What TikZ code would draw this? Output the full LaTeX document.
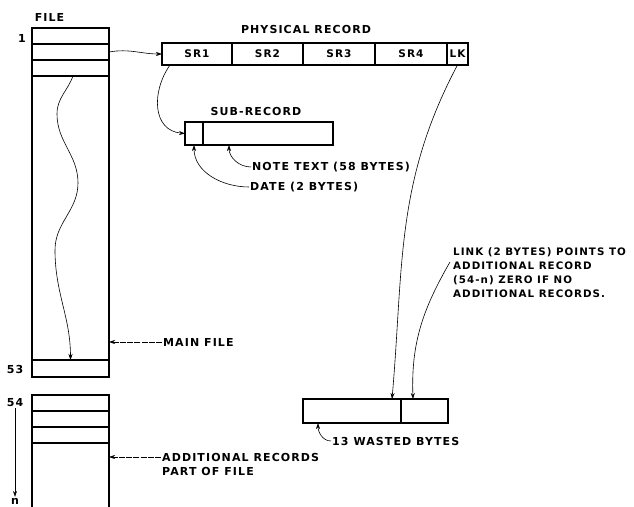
\documentclass[tikz,border=0pt]{standalone}
\usepackage{fontspec}
\newfontfamily\lettering{DejaVu Sans}[LetterSpace=10]
\usetikzlibrary{arrows.meta,positioning}
\begin{document}
\begin{tikzpicture}[x=1pt,y=1pt,>={Stealth[length=6pt,width=4pt]},
  cell/.style={draw,line width=1.2pt,inner sep=0pt,outer sep=0pt,minimum width=77pt,minimum height=16pt,anchor=north west},
  rec/.style={draw,line width=1.2pt,inner sep=0pt,outer sep=0pt,minimum height=22pt,font=\lettering\bfseries\fontsize{10.5}{11}\selectfont},
  lbl/.style={font=\lettering\bfseries\fontsize{11}{14}\selectfont,inner sep=1pt},
  link/.style={->,line width=.6pt}]
\useasboundingbox (0,0) rectangle (634,506);
% main file
\node[lbl] at (49.5,489) {FILE};
\node[cell] (r1) at (32,478) {};
\node[cell] (r2) at (32,462) {};
\node[cell] (r3) at (32,446) {};
\node[cell,minimum height=284pt] (main) at (32,430) {};
\node[cell,minimum height=17pt] (r53) at (32,146) {};
\node[lbl] at (22,468) {1};
\node[lbl] at (15,137) {53};
% additional records
\node[cell] (a1) at (32,111) {};
\node[cell] (a2) at (32,95) {};
\node[cell] (a3) at (32,79) {};
\draw[line width=1.2pt] (a3.south west) -- (32,-5) (a3.south east) -- (109,-5);
\node[lbl] (lbl54) at (15,103) {54};
\node[lbl,anchor=south] (lbln) at (15,0.5) {n};
% physical record
\node[lbl] at (306,476) {PHYSICAL RECORD};
\node[rec,minimum width=70pt,anchor=north west] (sr1) at (162,463) {SR1};
\node[rec,minimum width=71pt,right=0pt of sr1] (sr2) {SR2};
\node[rec,minimum width=72pt,right=0pt of sr2] (sr3) {SR3};
\node[rec,minimum width=72pt,right=0pt of sr3] (sr4) {SR4};
\node[rec,minimum width=21pt,right=0pt of sr4] (lk) {LK};
% sub-record
\node[lbl] at (256,394) {SUB-RECORD};
\node[rec,minimum width=18pt,minimum height=23pt,anchor=north west] (date) at (185,384) {};
\node[rec,minimum width=130pt,minimum height=23pt,right=0pt of date] (note) {};
\node[lbl,anchor=west] (notelbl) at (251,339) {NOTE TEXT (58 BYTES)};
\node[lbl,anchor=west] (datelbl) at (249,319) {DATE (2 BYTES)};
% wasted bytes
\node[rec,minimum width=98pt,minimum height=24pt,anchor=north west] (wb1) at (303,107) {};
\node[rec,minimum width=47pt,minimum height=24pt,right=0pt of wb1] (wb2) {};
\node[lbl,anchor=west] (wastelbl) at (331,65) {13 WASTED BYTES};
\node[lbl,font=\lettering\bfseries\fontsize{10.3}{14}\selectfont,anchor=north west,align=left] (linktxt) at (452,260)
  {LINK (2 BYTES) POINTS TO\\ADDITIONAL RECORD\\(54-n) ZERO IF NO\\ADDITIONAL RECORDS.};
\node[lbl,anchor=west] (mainlbl) at (162,164) {MAIN FILE};
\node[lbl,anchor=west] (addl) at (161,49) {ADDITIONAL RECORDS};
\node[lbl,anchor=west] (addl2) at (161,35) {PART OF FILE};
% connectors
\draw[link] (r2.east) to[out=10,in=180] (sr1.west);
\draw[link] ([xshift=2.5pt]r3.south) to[out=-110,in=90] (57,392) to[out=-90,in=90] (78,323)
  to[out=-90,in=90] (55,256) to[out=-90,in=90] (r53.north);
\draw[link] ([xshift=-27pt]sr1.south) to[out=235,in=175,looseness=1.2] (date.west);
\draw[link] (notelbl.west) to[out=180,in=-90] ([xshift=26pt]note.south west);
\draw[link] (datelbl.west) to[out=180,in=-90] (date.south);
\draw[link] (lk.south) to[out=242,in=85] ([xshift=-9pt]wb1.north east);
\draw[link] ([xshift=-2pt,yshift=-16pt]linktxt.north west) to[out=240,in=92] ([xshift=12pt]wb2.north west);
\draw[link] (wastelbl.west) to[out=180,in=-90] ([xshift=15pt]wb1.south west);
\draw[link,dash pattern=on 6pt off 1.2pt] (mainlbl.west) -- (mainlbl.west -| main.east);
\draw[link,dash pattern=on 6pt off 1.2pt] (addl.west) -- (addl.west -| a3.east);
\draw[link] (lbl54.south) -- (lbln.north);
\end{tikzpicture}
\end{document}
